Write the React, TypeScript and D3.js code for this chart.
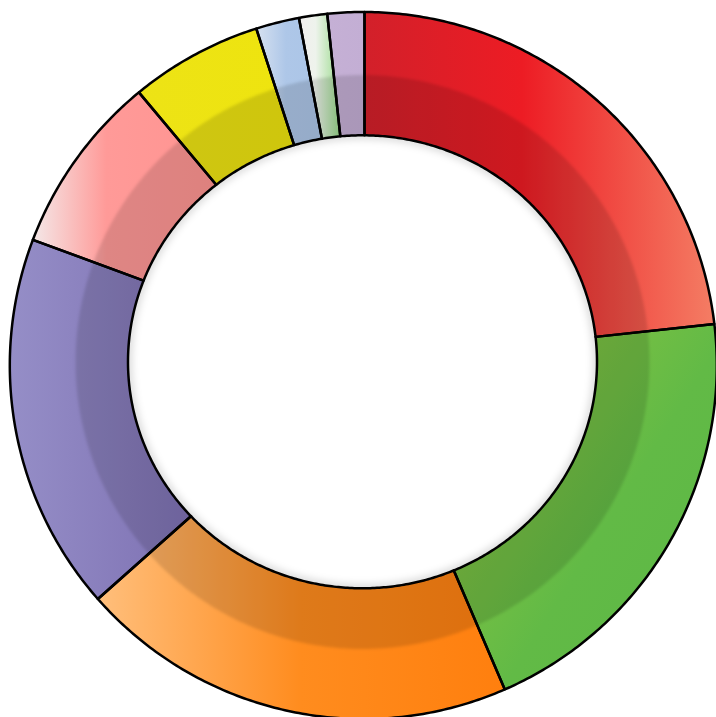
import React from 'react';
import * as d3 from 'd3';

// slice values, clockwise from 12 o'clock
const categories = ['A', 'B', 'C', 'D', 'E', 'F', 'G', 'H', 'I'];
const values = [23.3, 20.3, 19.9, 17.2, 8.3, 6.1, 2.0, 1.3, 1.7];

// gradient stops per slice (offset, colour) and direction
const gradients: { dir: [number, number, number, number]; stops: [string, string][] }[] = [
	{ dir: [0, 0, 1, 0], stops: [['0%', '#d2202a'], ['45%', '#ed1c24'], ['100%', '#f47d64']] },
	{ dir: [0, 0, 0.8, 0.7], stops: [['0%', '#95c93c'], ['35%', '#7dc142'], ['75%', '#62ba46'], ['100%', '#5fb946']] },
	{ dir: [0, 0, 1, 0], stops: [['0%', '#ffbf7c'], ['50%', '#ff8c1e'], ['100%', '#ff7f0e']] },
	{ dir: [0, 0, 1, 0], stops: [['0%', '#958ec7'], ['100%', '#7e71b3']] },
	{ dir: [0, 0, 1, 0], stops: [['0%', '#f4e8e8'], ['40%', '#ff9a98'], ['100%', '#ff9491']] },
	{ dir: [0, 0, 1, 0], stops: [['0%', '#ede316'], ['100%', '#eee40e']] },
	{ dir: [0, 0, 1, 0], stops: [['0%', '#d6e1f0'], ['45%', '#aec7e8'], ['100%', '#abc5e7']] },
	{ dir: [0, 0, 1, 0], stops: [['0%', '#f2eeee'], ['40%', '#eef3ec'], ['100%', '#98da8a']] },
	{ dir: [0, 0, 1, 0], stops: [['0%', '#c5b0d5'], ['100%', '#c3aed4']] },
];

// geometry: slices radiate from origin; the outer rim is a circle and the hole an ellipse
const origin = { x: 364.5, y: 362 };
const outer = { x: 363.3, y: 365.5, r: 353.5 };
const hole = { x: 362.5, y: 361.8, rx: 234.5, ry: 226.5 };
const band = { x: 362.5, y: 362, r: 287 };

// distance from origin along angle a (0 = up, clockwise) to a centred ellipse
function rayToEllipse(a: number, cx: number, cy: number, rx: number, ry: number) {
	const ux = Math.sin(a);
	const uy = -Math.cos(a);
	const dx = origin.x - cx;
	const dy = origin.y - cy;
	const A = (ux * ux) / (rx * rx) + (uy * uy) / (ry * ry);
	const B = 2 * ((dx * ux) / (rx * rx) + (dy * uy) / (ry * ry));
	const C = (dx * dx) / (rx * rx) + (dy * dy) / (ry * ry) - 1;
	return (-B + Math.sqrt(B * B - 4 * A * C)) / (2 * A);
}
const rOuter = (a: number) => rayToEllipse(a, outer.x, outer.y, outer.r, outer.r);
const rInner = (a: number) => rayToEllipse(a, hole.x, hole.y, hole.rx, hole.ry);
const rBand = (a: number) => rayToEllipse(a, band.x, band.y, band.r, band.r);

function sampleAngles(a0: number, a1: number) {
	const n = Math.max(2, Math.ceil((a1 - a0) / 0.01));
	return d3.range(n + 1).map((i) => a0 + ((a1 - a0) * i) / n);
}

export default function App() {
	const pie = d3
		.pie<number>()
		.sort(null)
		.value((d) => d);
	const arcs = pie(values);

	const sliceArea = d3
		.areaRadial<number>()
		.angle((a) => a)
		.innerRadius(rInner)
		.outerRadius(rOuter);
	const bandArea = d3
		.areaRadial<number>()
		.angle((a) => a)
		.innerRadius((a) => rInner(a) - 6)
		.outerRadius(rBand);
	const holeLine = d3
		.lineRadial<number>()
		.angle((a) => a)
		.radius(rInner)
		.curve(d3.curveLinearClosed);

	const full = sampleAngles(0, 2 * Math.PI);
	const ringPath = sliceArea(full) as string;

	return (
		<svg
			width={716}
			height={717}
			style={{ position: 'absolute', left: 0, top: 0, display: 'block' }}
		>
			<defs>
				{gradients.map((g, i) => (
					<linearGradient
						key={i}
						id={`grad-${i}`}
						x1={g.dir[0]}
						y1={g.dir[1]}
						x2={g.dir[2]}
						y2={g.dir[3]}
					>
						{g.stops.map(([o, c]) => (
							<stop key={o} offset={o} stopColor={c} />
						))}
					</linearGradient>
				))}
				<clipPath id="ring-clip">
					<path d={ringPath} />
				</clipPath>
				<filter id="soft" x="-10%" y="-10%" width="120%" height="120%">
					<feGaussianBlur stdDeviation={1.6} />
				</filter>
				<filter id="shadow" x="-10%" y="-10%" width="120%" height="120%">
					<feGaussianBlur stdDeviation={3.5} />
				</filter>
			</defs>
			<g transform={`translate(${origin.x},${origin.y})`}>
				{/* soft shadow inside the hole */}
				<path
					d={holeLine(full) as string}
					fill="none"
					stroke="#000"
					strokeOpacity={0.13}
					strokeWidth={9}
					filter="url(#shadow)"
				/>
				{arcs.map((a, i) => (
					<path
						key={categories[i]}
						d={sliceArea(sampleAngles(a.startAngle, a.endAngle)) as string}
						fill={`url(#grad-${i})`}
					/>
				))}
				<g clipPath="url(#ring-clip)">
					<path d={bandArea(full) as string} fill="#000" fillOpacity={0.13} filter="url(#soft)" />
				</g>
				{arcs.map((a, i) => (
					<path
						key={'s' + categories[i]}
						d={sliceArea(sampleAngles(a.startAngle, a.endAngle)) as string}
						fill="none"
						stroke="#000"
						strokeWidth={2.5}
						strokeLinejoin="round"
					/>
				))}
			</g>
		</svg>
	);
}
